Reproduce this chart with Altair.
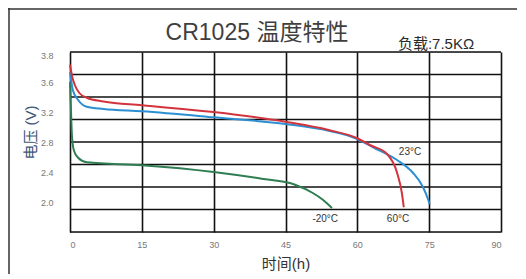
import altair as alt
import pandas as pd

# ---- data ----
red_t = [0, 0.5, 1, 2, 3.5, 7, 15, 30, 45, 54, 60, 62.6, 66.2, 68.3, 69.3, 69.7]
red_v = [3.83, 3.66, 3.56, 3.45, 3.39, 3.34, 3.29, 3.20, 3.07, 2.96, 2.85, 2.76, 2.64, 2.39, 2.12, 1.93]

blue_t = [0, 0.6, 1.7, 3.5, 7, 15, 30, 45, 54, 60, 63.3, 68.3, 71.6, 73.7, 74.8, 75.1]
blue_v = [3.73, 3.49, 3.36, 3.27, 3.24, 3.21, 3.13, 3.04, 2.95, 2.84, 2.73, 2.56, 2.39, 2.20, 2.03, 1.97]

green_t = [0, 0.2, 0.4, 0.8, 1.7, 3.5, 15, 30, 40, 47, 50.7, 52.8, 54.7]
green_v = [3.60, 3.23, 2.89, 2.69, 2.59, 2.53, 2.49, 2.40, 2.31, 2.23, 2.12, 2.03, 1.92]

series_names = ["60°C", "23°C", "-20°C"]
series_colors = ["#d2343e", "#2c8fd2", "#2f7d52"]

label_text = ["23°C", "60°C", "-20°C"]
label_t = [71.0, 68.5, 53.3]
label_v = [2.67, 1.77, 1.77]

x_ticks = [0, 15, 30, 45, 60, 75, 90]
y_grid = [1.6, 1.9, 2.2, 2.5, 2.8, 3.1, 3.4, 3.7, 4.0]
y_tick_values = [2.0, 2.4, 2.8, 3.2, 3.6, 3.96]
y_tick_text = ["2.0", "2.4", "2.8", "3.2", "3.6", "3.8"]

title_text = "CR1025 温度特性"
load_text = "负载:7.5KΩ"

# ---- build tables ----
rows = []
for name, ts, vs in [(series_names[2], green_t, green_v),
                     (series_names[1], blue_t, blue_v),
                     (series_names[0], red_t, red_v)]:
    for i, (t, v) in enumerate(zip(ts, vs)):
        rows.append({"series": name, "t": t, "v": v, "order": i})
lines_df = pd.DataFrame(rows)
labels_df = pd.DataFrame({"t": label_t, "v": label_v, "text": label_text})
grid_df = pd.DataFrame({"v": y_grid})

font = "Liberation Sans, Noto Sans CJK SC"

label_expr = " : ".join(
    [f"datum.value > {v - 0.01} && datum.value < {v + 0.01} ? '{s}'" for v, s in zip(y_tick_values, y_tick_text)]
) + " : ''"

xs = alt.Scale(domain=[0, 90], nice=False)
ys = alt.Scale(domain=[1.6, 4.0], nice=False, zero=False)

x_axis = alt.Axis(values=x_ticks, grid=True, gridColor="#111", gridWidth=1.6, gridOpacity=1,
                  ticks=False, domain=False, labelFont=font, labelFontSize=9, labelColor="#777",
                  labelPadding=8, labelOverlap=False, title="时间(h)", titleFont=font, titleFontSize=15,
                  titleFontWeight="normal", titleColor="#333", titleY=31, titleBaseline="middle")
y_axis = alt.Axis(values=y_tick_values, labelExpr=label_expr, grid=False, ticks=False, domain=False,
                  labelFont=font, labelFontSize=9, labelColor="#777", labelPadding=17,
                  labelOverlap=False, labelBound=False,
                  title="电压 (V)", titleFont=font, titleFontSize=15, titleFontWeight="normal",
                  titleColor="#3f5876", titleX=-40, titleY=80, titleBaseline="middle")

grid = alt.Chart(grid_df).mark_rule(color="#111", strokeWidth=1.6).encode(
    y=alt.Y("v:Q", scale=ys, axis=y_axis)
)

lines = alt.Chart(lines_df).mark_line(interpolate="monotone", strokeWidth=2).encode(
    x=alt.X("t:Q", scale=xs, axis=x_axis),
    y=alt.Y("v:Q", scale=ys, axis=y_axis),
    color=alt.Color("series:N", scale=alt.Scale(domain=series_names, range=series_colors), legend=None),
    detail="series:N",
    order="order:Q",
)

labels = alt.Chart(labels_df).mark_text(font=font, fontSize=10, color="#333", baseline="middle").encode(
    x=alt.X("t:Q", scale=xs, axis=x_axis), y=alt.Y("v:Q", scale=ys, axis=y_axis), text="text:N"
)

title = alt.Chart(pd.DataFrame({"text": [title_text]})).mark_text(
    font=font, fontSize=23, color="#3f3f3f", baseline="middle", align="center"
).encode(x=alt.value(187), y=alt.value(-19), text="text:N")

load = alt.Chart(pd.DataFrame({"text": [load_text]})).mark_text(
    font=font, fontSize=15, color="#2a2a2a", baseline="middle", align="center"
).encode(x=alt.value(366), y=alt.value(-8), text="text:N")

border_top = alt.Chart(pd.DataFrame({"a": [0]})).mark_rule(color="#333", strokeWidth=1.5).encode(
    x=alt.value(-62), x2=alt.value(448), y=alt.value(-43)
)
border_left = alt.Chart(pd.DataFrame({"a": [0]})).mark_rule(color="#333", strokeWidth=1.5).encode(
    x=alt.value(-61), y=alt.value(-44), y2=alt.value(222)
)

chart = alt.layer(grid, lines, labels, title, load, border_top, border_left).properties(
    width=431, height=180,
    autosize=alt.AutoSizeParams(type="none"),
    padding={"left": 62, "top": 44, "right": 16, "bottom": 42},
).configure_view(stroke="#111", strokeWidth=1.6).configure_axis(
    labelOverlap=False
).configure(background="white")

chart.save("out.html", embed_options={"renderer": "svg", "actions": False})
